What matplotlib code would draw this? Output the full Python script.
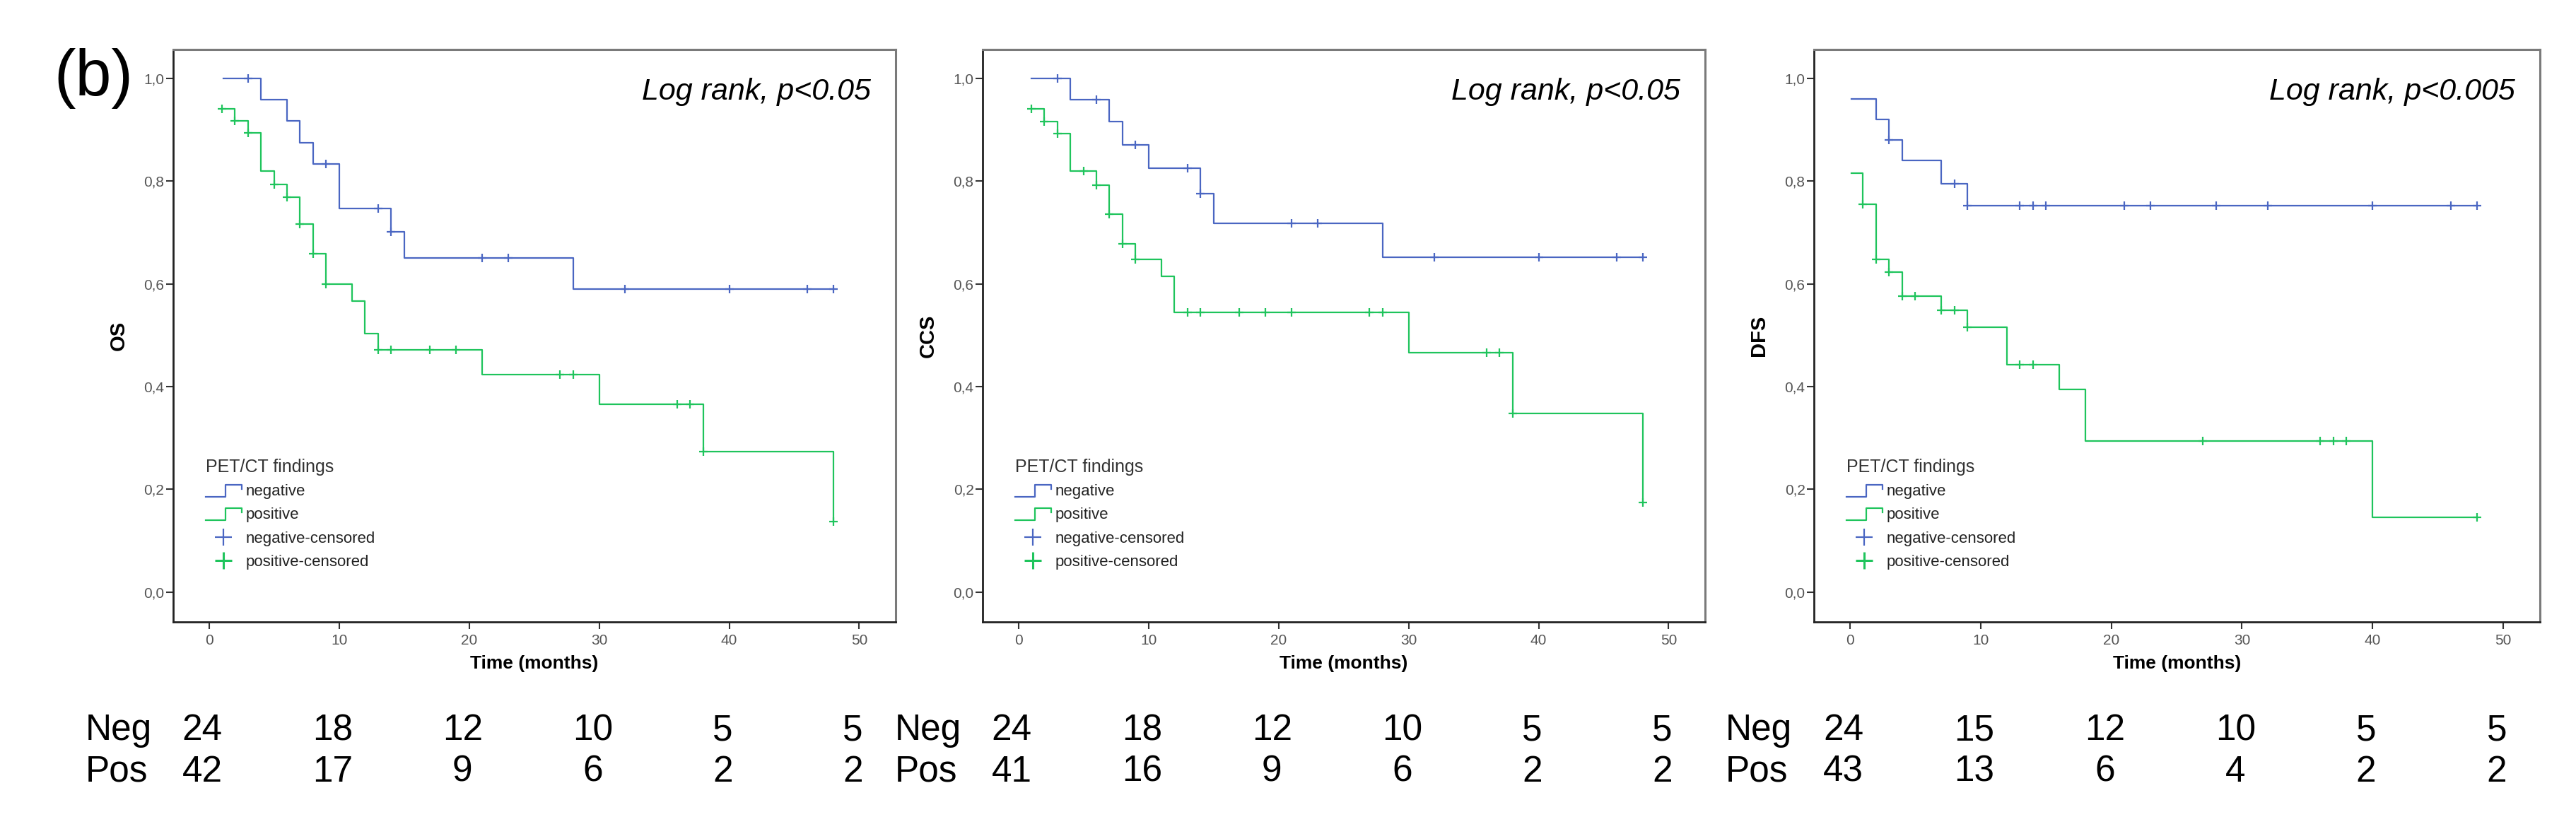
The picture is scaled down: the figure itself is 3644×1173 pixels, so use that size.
import numpy as np
import matplotlib
matplotlib.use("Agg")
import matplotlib.pyplot as plt
from matplotlib.lines import Line2D
from matplotlib.legend_handler import HandlerBase
import matplotlib.transforms as mtransforms

plt.rcParams['font.family'] = ['Liberation Sans', 'DejaVu Sans']

# ---- data (step start times, survival after step) ----
os_neg_t = [1.1, 4, 6, 7, 8, 10, 14, 15, 28]
os_neg_s = [1.0, 0.958, 0.917, 0.875, 0.833, 0.746, 0.701, 0.650, 0.590]
os_neg_cens = [3, 9, 13, 14, 21, 23, 32, 40, 46, 48]
os_pos_t = [1, 2, 3, 4, 5, 6, 7, 8, 9, 11, 12, 13, 21, 30, 38, 48]
os_pos_s = [0.940, 0.917, 0.894, 0.819, 0.794, 0.769, 0.716, 0.658, 0.599,
            0.567, 0.503, 0.472, 0.424, 0.365, 0.274, 0.137]
os_pos_cens = [1, 2, 3, 5, 6, 7, 8, 9, 13, 14, 17, 19, 27, 28, 36, 37, 38, 48]

ccs_neg_t = [1, 4, 7, 8, 10, 14, 15, 28]
ccs_neg_s = [1.0, 0.959, 0.916, 0.871, 0.825, 0.775, 0.718, 0.652]
ccs_neg_cens = [3, 6, 9, 13, 14, 21, 23, 32, 40, 46, 48]
ccs_pos_t = [1, 2, 3, 4, 6, 7, 8, 9, 11, 12, 30, 38, 48]
ccs_pos_s = [0.940, 0.916, 0.893, 0.820, 0.792, 0.736, 0.678, 0.647, 0.614,
             0.544, 0.466, 0.348, 0.174]
ccs_pos_cens = [1, 2, 3, 5, 6, 7, 8, 9, 13, 14, 17, 19, 21, 27, 28, 36, 37, 38, 48]

dfs_neg_t = [0.1, 2, 3, 4, 7, 9]
dfs_neg_s = [0.960, 0.920, 0.880, 0.840, 0.795, 0.752]
dfs_neg_cens = [3, 8, 9, 13, 14, 15, 21, 23, 28, 32, 40, 46, 48]
dfs_pos_t = [0.1, 1, 2, 3, 4, 7, 9, 12, 16, 18, 40]
dfs_pos_s = [0.816, 0.755, 0.647, 0.623, 0.576, 0.549, 0.516, 0.442, 0.394,
             0.294, 0.146]
dfs_pos_cens = [1, 2, 3, 4, 5, 7, 8, 9, 13, 14, 27, 36, 37, 38, 48]

end_time = 48

# numbers at risk
risk_times = [0, 10, 20, 30, 40, 50]
os_risk_neg = [24, 18, 12, 10, 5, 5]
os_risk_pos = [42, 17, 9, 6, 2, 2]
ccs_risk_neg = [24, 18, 12, 10, 5, 5]
ccs_risk_pos = [41, 16, 9, 6, 2, 2]
dfs_risk_neg = [24, 15, 12, 10, 5, 5]
dfs_risk_pos = [43, 13, 6, 4, 2, 2]

ylabels = ["OS", "CCS", "DFS"]
pvals = ["Log rank, p<0.05", "Log rank, p<0.05", "Log rank, p<0.005"]
yticks = [0.0, 0.2, 0.4, 0.6, 0.8, 1.0]
xticks = [0, 10, 20, 30, 40, 50]

BLUE = '#4a66c2'
GREEN = '#1fc45c'


class StepHandler(HandlerBase):
    # little step icon like the SPSS legend
    def create_artists(self, legend, orig, xd, yd, w, h, fontsize, trans):
        xs = np.array([0, 0.55, 0.55, 1.0, 1.0]) * w - xd
        ys = np.array([-0.1, -0.1, 1.0, 1.0, 0.6]) * h - yd
        ln = Line2D(xs, ys, color=orig.get_color(), lw=orig.get_linewidth())
        ln.set_transform(trans)
        return [ln]


def draw_km(ax, t, s, cens, color):
    t = list(t)
    s = list(s)
    ax.step(t + [end_time], s + [s[-1]], where='post', color=color, lw=1.6)
    idx = np.searchsorted(t, cens, side='right') - 1
    cy = np.array(s)[idx]
    ax.plot(cens, cy, ls='none', marker='+', ms=8, mew=1.6, color=color)


fig = plt.figure(figsize=(36.44, 11.73), dpi=100)
W, H = 3644, 1173
lefts = [245, 1390, 2566]
widths = [1022, 1022, 1027]
top_px, bot_px = 70, 880

panels = [
    (os_neg_t, os_neg_s, os_neg_cens, os_pos_t, os_pos_s, os_pos_cens, os_risk_neg, os_risk_pos),
    (ccs_neg_t, ccs_neg_s, ccs_neg_cens, ccs_pos_t, ccs_pos_s, ccs_pos_cens, ccs_risk_neg, ccs_risk_pos),
    (dfs_neg_t, dfs_neg_s, dfs_neg_cens, dfs_pos_t, dfs_pos_s, dfs_pos_cens, dfs_risk_neg, dfs_risk_pos),
]

for i, p in enumerate(panels):
    nt, ns, nc, pt, ps, pc, rn, rp = p
    ax = fig.add_axes([lefts[i] / W, 1 - bot_px / H, widths[i] / W, (bot_px - top_px) / H])
    draw_km(ax, nt, ns, nc, BLUE)
    draw_km(ax, pt, ps, pc, GREEN)
    ax.set_xlim(-2.75, 52.8)
    ax.set_ylim(-0.058, 1.056)
    ax.set_xticks(xticks)
    ax.set_yticks(yticks)
    ax.set_yticklabels([f"{v:.1f}".replace('.', ',') for v in yticks])
    ax.tick_params(axis='both', labelsize=15, labelcolor='#555555', length=7,
                   width=1.5, color='#333333')
    ax.tick_params(axis='y', pad=2)
    ax.tick_params(axis='x', pad=5)
    for side in ['left', 'bottom']:
        ax.spines[side].set_color('#222222')
        ax.spines[side].set_linewidth(2)
    for side in ['top', 'right']:
        ax.spines[side].set_color('#7a7a7a')
        ax.spines[side].set_linewidth(2.2)
    ax.set_xlabel("Time (months)", fontsize=19, fontweight='bold', labelpad=8)
    ax.set_ylabel(ylabels[i], fontsize=21, fontweight='bold')
    ax.yaxis.set_label_coords(-0.062, 0.5)
    ax.text(50.9, 0.974, pvals[i], fontsize=31, style='italic', ha='right', va='center')

    # legend
    h_neg = Line2D([], [], color=BLUE, lw=1.6)
    h_pos = Line2D([], [], color=GREEN, lw=1.6)
    h_nc = Line2D([], [], ls='none', marker='+', ms=17, mew=1.6, color=BLUE)
    h_pc = Line2D([], [], ls='none', marker='+', ms=17, mew=2.2, color=GREEN)
    leg = ax.legend([h_neg, h_pos, h_nc, h_pc],
                    ["negative", "positive", "negative-censored", "positive-censored"],
                    handler_map={h_neg: StepHandler(), h_pos: StepHandler()},
                    loc='upper left', bbox_to_anchor=(0.025, 0.31), frameon=False,
                    title="PET/CT findings", title_fontsize=18, fontsize=16,
                    handlelength=2.3, handletextpad=0.25, labelspacing=0.55,
                    alignment='left')
    leg.get_title().set_color('#333333')
    for txt in leg.get_texts():
        txt.set_color('#222222')

    # numbers at risk
    trans = mtransforms.blended_transform_factory(ax.transData, ax.transAxes)
    ax.text(-9.5, -0.19, "Neg", fontsize=37, ha='left', va='center', transform=trans)
    ax.text(-9.5, -0.262, "Pos", fontsize=37, ha='left', va='center', transform=trans)
    for x, a, b in zip(risk_times, rn, rp):
        ax.text(x - 0.5, -0.19, str(a), fontsize=37, ha='center', va='center', transform=trans)
        ax.text(x - 0.5, -0.262, str(b), fontsize=37, ha='center', va='center', transform=trans)

fig.text(76 / W, 1 - 111 / H, "(b)", fontsize=66, ha='left', va='center')

fig.savefig("out.png", dpi=100)
